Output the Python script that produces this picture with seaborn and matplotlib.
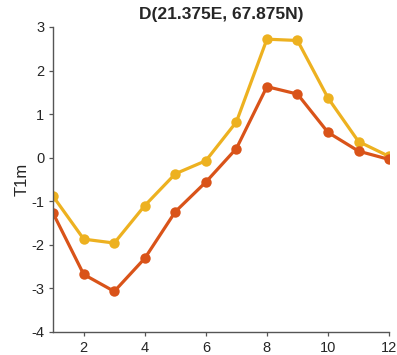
import numpy as np
import pandas as pd
import matplotlib
matplotlib.use("Agg")
import matplotlib.pyplot as plt
import seaborn as sns

# Monthly values
months = list(range(1, 13))
upper = [-0.89, -1.87, -1.96, -1.1, -0.37, -0.07, 0.82, 2.72, 2.69, 1.37, 0.37, 0.03]
lower = [-1.28, -2.68, -3.07, -2.31, -1.24, -0.56, 0.21, 1.63, 1.46, 0.58, 0.15, -0.04]
series_names = ["upper", "lower"]
colors = {"upper": "#EDB120", "lower": "#D95319"}

df = pd.DataFrame({
    "month": months * 2,
    "T1m": upper + lower,
    "series": ["upper"] * 12 + ["lower"] * 12,
})

sns.set_style("ticks")
plt.rcParams["font.family"] = ["Liberation Sans", "DejaVu Sans"]
plt.rcParams["axes.unicode_minus"] = False

fig = plt.figure(figsize=(3.97, 3.55), dpi=100)
ax = fig.add_axes([0.134, 0.065, 0.846, 0.859])

sns.lineplot(data=df, x="month", y="T1m", hue="series", hue_order=series_names,
             palette=colors, marker="o", markersize=7.5, markeredgewidth=0,
             linewidth=2.3, legend=False, ax=ax)

ax.set_xlim(1, 12)
ax.set_ylim(-4, 3)
ax.set_xticks([2, 4, 6, 8, 10, 12])
ax.set_yticks(range(-4, 4))
ax.set_xlabel("")
ax.set_ylabel("T1m", fontsize=12, color="#262626", labelpad=1)
ax.set_title("D(21.375E, 67.875N)", fontsize=12.5, fontweight="bold", color="#262626", pad=6)

sns.despine(ax=ax)
for s in ["left", "bottom"]:
    ax.spines[s].set_color("#555555")
    ax.spines[s].set_linewidth(1.0)
ax.tick_params(axis="both", direction="out", length=3, width=0.9, colors="#555555",
               labelcolor="#262626", labelsize=10.5)

fig.savefig("out.png", dpi=100)
